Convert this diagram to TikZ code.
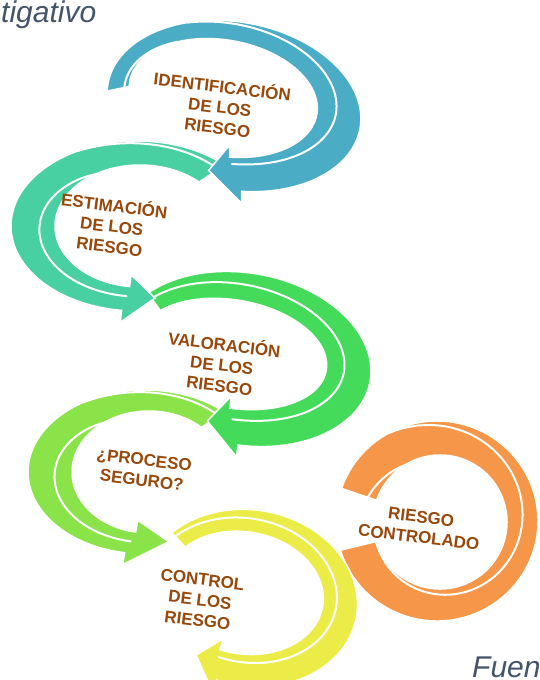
\documentclass[tikz,border=0pt]{standalone}
\usepackage{fontspec}
\newfontfamily\arialf{Liberation Sans}
\definecolor{cblue}{RGB}{75,172,198}
\definecolor{cteal}{RGB}{72,207,162}
\definecolor{cgreen}{RGB}{68,219,90}
\definecolor{clgreen}{RGB}{139,227,74}
\definecolor{cyellow}{RGB}{236,236,72}
\definecolor{corange}{RGB}{245,150,72}
\definecolor{txtbrown}{RGB}{152,72,10}
\definecolor{capgray}{RGB}{68,84,106}
\newif\ifChead
\pgfkeys{/carr/.is family,/carr,
  cx/.store in=\Ccx, cy/.store in=\Ccy, rot/.store in=\Crot,
  A/.store in=\CA, B/.store in=\CB, dx/.store in=\Cdx, dy/.store in=\Cdy,
  a/.store in=\Ca, b/.store in=\Cb, ts/.store in=\Cts, te/.store in=\Cte,
  tt/.store in=\Ctt, e/.store in=\Ce, col/.store in=\Ccol,
  head/.is if=Chead}
% white separating line between outer (lambda=0) and inner (lambda=1) edge
\newcommand\wline[5]{%
  \draw[white,line width=2pt,line cap=round,
    declare function={lamf(\s)=#3+(#4-#3)*(1-pow(max(1-(\s-(#1))/((#2)-(#1)),0.0001),#5));}]
    plot[domain=#1:#2,samples=70,variable=\t]
    ({(1-lamf(\t))*\CA*cos(\t)+lamf(\t)*(\Cdx+\Ca*cos(\t))},
     {(1-lamf(\t))*\CB*sin(\t)+lamf(\t)*(\Cdy+\Cb*sin(\t))});}
\newcommand\carrow[2]{%
  \begin{scope}
  \pgfkeys{/carr,rot=-10,e=12,tt=0,head=true,#1}%
  \begin{scope}[shift={(\Ccx,-\Ccy)},rotate=\Crot]
    \pgfmathsetmacro\Cosx{\CA*cos(\Cts)}%
    \pgfmathsetmacro\Cosy{\CB*sin(\Cts)}%
    \pgfmathsetmacro\Cix{\Cdx+\Ca*cos(\Cte)}%
    \pgfmathsetmacro\Ciy{\Cdy+\Cb*sin(\Cte)}%
    \pgfmathsetmacro\Cobx{(\CA+\Ce)*cos(\Cte)}%
    \pgfmathsetmacro\Coby{(\CB+\Ce)*sin(\Cte)}%
    \pgfmathsetmacro\Cibx{\Cdx+(\Ca-\Ce)*cos(\Cte)}%
    \pgfmathsetmacro\Ciby{\Cdy+(\Cb-\Ce)*sin(\Cte)}%
    \pgfmathsetmacro\Ctx{0.5*\Cdx+0.5*(\CA+\Ca)*cos(\Ctt)}%
    \pgfmathsetmacro\Cty{0.5*\Cdy+0.5*(\CB+\Cb)*sin(\Ctt)}%
    \ifChead
      \filldraw[fill=\Ccol,draw=white,line width=1.5pt,line join=miter,miter limit=12]
        (\Cosx,\Cosy) arc[start angle=\Cts,end angle=\Cte,x radius=\CA,y radius=\CB]
        -- (\Cobx,\Coby) -- (\Ctx,\Cty) -- (\Cibx,\Ciby) -- (\Cix,\Ciy)
        arc[start angle=\Cte,end angle=\Cts,x radius=\Ca,y radius=\Cb] -- cycle;
    \else
      \filldraw[fill=\Ccol,draw=white,line width=1.5pt,line join=miter]
        (\Cosx,\Cosy) arc[start angle=\Cts,end angle=\Cte,x radius=\CA,y radius=\CB]
        -- (\Cix,\Ciy)
        arc[start angle=\Cte,end angle=\Cts,x radius=\Ca,y radius=\Cb] -- cycle;
    \fi
    #2
  \end{scope}
  \end{scope}}
\begin{document}
\begin{tikzpicture}[x=1pt,y=1pt,
  lab/.style={font=\arialf\bfseries\fontsize{17}{20.5}\selectfont,text=txtbrown,align=center,rotate=-7,inner sep=0pt},
  capstyle/.style={font=\arialf\itshape\fontsize{30}{34}\selectfont,text=capgray,inner sep=0pt}]
\useasboundingbox (0,0) rectangle (539,-680);
\fill[white] (0,0) rectangle (539,-680);
\clip (0,0) rectangle (539,-680);

% orange ring
\carrow{cx=437,cy=521,rot=0,A=101,B=100,dx=3,dy=-1,a=67,b=67,ts=161,te=-163,col=corange,head=false}
  {\wline{161}{122}{0.75}{1}{1}\wline{118}{-163}{0}{1}{1.3}}
% yellow
\carrow{cx=250,cy=598,A=108,B=88,dx=-7,dy=4,a=80,b=61,ts=145,te=-100,tt=-115,col=cyellow}
  {\wline{145}{-100}{0.25}{0.75}{1.5}}
% light green
\carrow{cx=145,cy=472,rot=0,A=117,B=82,dx=4,dy=0,a=77,b=61,ts=47,te=260,tt=283,col=clgreen}
  {\wline{47}{122}{0.25}{0}{1}\wline{126}{260}{1}{0.55}{4}}
% green
\carrow{cx=244,cy=359,A=128,B=86,dx=-12,dy=3,a=95,b=54,ts=146,te=-86,tt=-100,col=cgreen}
  {\wline{146}{-86}{0.3}{0.7}{1.5}}
% teal
\carrow{cx=137,cy=226,rot=0,A=126,B=85,dx=3,dy=0,a=85,b=61,ts=46,te=263,tt=279,col=cteal}
  {\wline{46}{118}{0.25}{0}{1}\wline{122}{263}{1}{0.6}{4}}
% blue
\carrow{cx=234,cy=106,A=128,B=84,dx=-12,dy=6,a=95,b=58,ts=185,te=-80,tt=-94,col=cblue}
  {\wline{185}{125}{0.78}{1}{1}\wline{118}{-80}{0}{0.8}{1.5}}

\node[lab] (t1) at (220,-106) {IDENTIFICACIÓN\\DE LOS\\RIESGO};
\node[lab] (t2) at (112,-225) {ESTIMACIÓN\\DE LOS\\RIESGO};
\node[lab] (t3) at (222,-364) {VALORACIÓN\\DE LOS\\RIESGO};
\node[lab] (t4) at (143,-470) {¿PROCESO\\SEGURO?};
\node[lab] (t5) at (200,-600) {CONTROL\\DE LOS\\RIESGO};
\node[lab] (t6) at (420,-527) {RIESGO\\CONTROLADO};
\node[capstyle,anchor=base west] (cap1) at (1,-22) {tigativo};
\node[capstyle,anchor=base west] (cap2) at (472,-677) {Fuen};
\end{tikzpicture}
\end{document}
